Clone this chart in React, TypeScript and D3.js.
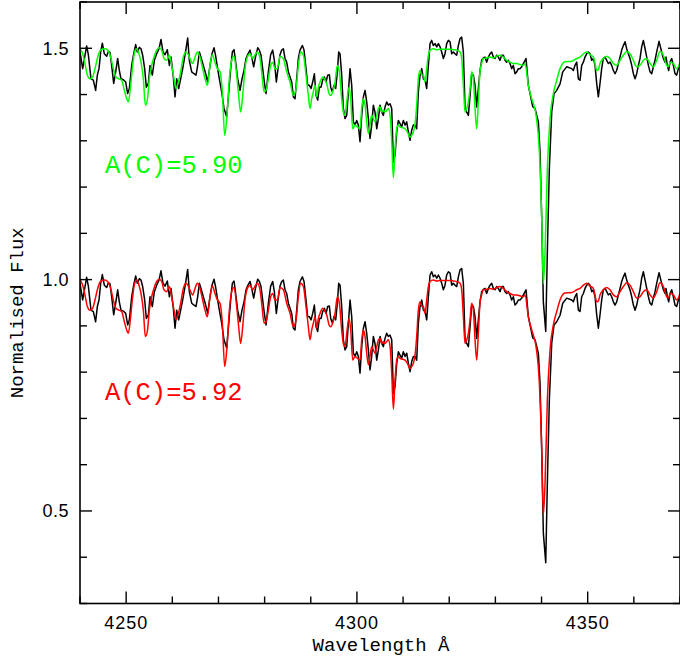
import { useEffect, useRef } from "react";
import * as d3 from "d3";

// Observed spectrum (wavelength in Å, normalised flux), lower copy
const observed: [number, number][] = [
  [4240.0, 0.992], [4240.58, 0.956], [4241.44, 1.005], [4241.81, 0.986], [4242.38, 0.934], [4242.89, 0.931],
  [4243.39, 0.909], [4243.76, 0.942], [4244.12, 0.956], [4244.48, 0.992], [4244.84, 1.011], [4245.27, 0.988],
  [4245.78, 0.983], [4246.14, 0.993], [4246.5, 0.991], [4246.86, 0.963], [4247.3, 0.924], [4247.73, 0.949],
  [4248.16, 0.978], [4248.52, 0.952], [4248.88, 0.934], [4249.39, 0.932], [4249.9, 0.927], [4250.33, 0.902],
  [4250.69, 0.913], [4251.2, 0.963], [4251.63, 0.988], [4252.06, 1.008], [4252.42, 0.992], [4252.86, 1.002],
  [4253.22, 0.999], [4253.58, 0.985], [4254.01, 0.956], [4254.37, 0.916], [4254.81, 0.924], [4255.17, 0.963],
  [4255.67, 0.942], [4256.11, 0.974], [4256.61, 0.988], [4257.12, 0.999], [4257.55, 1.019], [4257.98, 0.992],
  [4258.42, 0.986], [4258.92, 0.997], [4259.36, 0.963], [4259.72, 0.981], [4260.22, 0.938], [4260.59, 0.895],
  [4260.95, 0.934], [4261.38, 0.913], [4261.81, 0.934], [4262.25, 0.956], [4262.75, 0.985], [4263.33, 1.022],
  [4263.69, 0.974], [4264.2, 0.949], [4264.7, 0.945], [4265.14, 0.942], [4265.5, 0.963], [4265.86, 0.992],
  [4266.29, 0.978], [4266.72, 0.963], [4267.23, 0.945], [4267.66, 0.927], [4268.17, 0.963], [4268.6, 0.988],
  [4269.04, 1.001], [4269.4, 0.983], [4269.76, 0.96], [4270.19, 0.934], [4270.7, 0.906], [4271.2, 0.87],
  [4271.78, 0.852], [4272.29, 0.913], [4272.65, 0.956], [4273.01, 0.992], [4273.37, 0.997], [4273.73, 0.97],
  [4274.16, 0.934], [4274.67, 0.909], [4275.1, 0.934], [4275.54, 0.952], [4275.97, 0.978], [4276.4, 0.988],
  [4276.84, 0.996], [4277.27, 0.978], [4277.63, 0.96], [4278.06, 0.983], [4278.5, 1.001], [4278.86, 0.996],
  [4279.22, 0.985], [4279.58, 0.956], [4279.94, 0.927], [4280.3, 0.902], [4280.81, 0.949], [4281.31, 0.986],
  [4281.75, 0.996], [4282.11, 0.974], [4282.54, 0.927], [4282.9, 0.956], [4283.34, 0.986], [4283.7, 0.996],
  [4284.06, 0.999], [4284.42, 0.978], [4284.78, 0.97], [4285.15, 0.949], [4285.51, 0.938], [4285.87, 0.927],
  [4286.23, 0.895], [4286.59, 0.891], [4286.95, 0.934], [4287.31, 0.978], [4287.67, 0.996], [4288.18, 1.006],
  [4288.54, 0.996], [4288.97, 0.956], [4289.33, 0.92], [4289.7, 0.92], [4290.06, 0.913], [4290.42, 0.927],
  [4290.78, 0.945], [4291.14, 0.898], [4291.5, 0.888], [4291.86, 0.916], [4292.22, 0.916], [4292.58, 0.931],
  [4292.95, 0.938], [4293.31, 0.927], [4293.67, 0.942], [4294.03, 0.943], [4294.32, 0.916], [4294.68, 0.906],
  [4295.04, 0.92], [4295.4, 0.913], [4295.76, 0.949], [4296.05, 0.992], [4296.34, 0.988], [4296.7, 0.942],
  [4297.06, 0.87], [4297.42, 0.848], [4297.79, 0.855], [4298.15, 0.906], [4298.51, 0.956], [4298.87, 0.92],
  [4299.23, 0.841], [4299.59, 0.834], [4299.95, 0.844], [4300.31, 0.834], [4300.67, 0.798], [4301.04, 0.855],
  [4301.4, 0.895], [4301.76, 0.909], [4302.12, 0.884], [4302.48, 0.848], [4302.84, 0.805], [4303.2, 0.834],
  [4303.56, 0.877], [4303.92, 0.862], [4304.29, 0.826], [4304.65, 0.848], [4305.01, 0.877], [4305.37, 0.862],
  [4305.73, 0.855], [4306.09, 0.873], [4306.45, 0.884], [4306.81, 0.877], [4307.18, 0.88], [4307.54, 0.87],
  [4307.9, 0.754], [4308.26, 0.769], [4308.62, 0.819], [4308.98, 0.844], [4309.34, 0.837], [4309.7, 0.83],
  [4310.06, 0.844], [4310.43, 0.834], [4310.79, 0.841], [4311.15, 0.819], [4311.51, 0.801], [4311.87, 0.823],
  [4312.23, 0.834], [4312.59, 0.834], [4312.95, 0.826], [4313.31, 0.906], [4313.68, 0.942], [4314.04, 0.956],
  [4314.4, 0.934], [4314.76, 0.931], [4315.12, 0.913], [4315.48, 0.963], [4315.84, 1.01], [4316.2, 1.017],
  [4316.56, 1.006], [4316.93, 1.01], [4317.29, 1.003], [4317.65, 1.01], [4318.01, 1.003], [4318.37, 0.992],
  [4318.73, 0.978], [4319.09, 0.988], [4319.45, 1.01], [4319.81, 1.017], [4320.18, 1.014], [4320.54, 0.988],
  [4320.9, 0.992], [4321.26, 0.988], [4321.62, 0.985], [4321.98, 1.006], [4322.34, 1.021], [4322.7, 1.024],
  [4323.06, 0.992], [4323.43, 0.87], [4323.79, 0.862], [4324.15, 0.855], [4324.51, 0.898], [4324.87, 0.945],
  [4325.23, 0.942], [4325.59, 0.92], [4325.95, 0.873], [4326.31, 0.913], [4326.67, 0.952], [4327.03, 0.974],
  [4327.39, 0.979], [4327.75, 0.981], [4328.11, 0.97], [4328.48, 0.981], [4328.84, 0.988], [4329.2, 0.992],
  [4329.56, 0.981], [4329.92, 0.978], [4330.28, 0.985], [4330.64, 0.981], [4331.0, 0.974], [4331.36, 0.985],
  [4331.73, 0.985], [4332.09, 0.974], [4332.45, 0.97], [4332.81, 0.974], [4333.17, 0.967], [4333.53, 0.956],
  [4333.89, 0.963], [4334.25, 0.945], [4334.62, 0.949], [4334.98, 0.956], [4335.34, 0.956], [4335.7, 0.96],
  [4336.06, 0.967], [4336.64, 0.978], [4337.14, 0.92], [4338.09, 0.874], [4338.59, 0.87], [4339.31, 0.841],
  [4339.67, 0.777], [4340.04, 0.632], [4340.39, 0.452], [4340.91, 0.388], [4341.26, 0.561], [4341.69, 0.74],
  [4342.21, 0.863], [4342.71, 0.902], [4343.29, 0.909], [4344.01, 0.923], [4344.59, 0.949], [4345.46, 0.96],
  [4346.54, 0.956], [4346.89, 0.952], [4347.25, 0.963], [4347.62, 0.97], [4347.98, 0.934], [4348.34, 0.931],
  [4348.7, 0.963], [4349.06, 0.97], [4349.42, 0.981], [4349.78, 0.988], [4350.14, 0.992], [4350.5, 0.988],
  [4350.87, 0.974], [4351.23, 0.978], [4351.59, 0.963], [4351.95, 0.924], [4352.31, 0.895], [4352.67, 0.924],
  [4353.03, 0.956], [4353.39, 0.978], [4353.76, 0.981], [4354.12, 0.974], [4354.48, 0.967], [4354.84, 0.97],
  [4355.2, 0.963], [4355.56, 0.952], [4355.92, 0.945], [4356.28, 0.952], [4356.65, 0.967], [4357.01, 0.981],
  [4357.37, 0.996], [4357.73, 1.006], [4358.09, 1.014], [4358.45, 0.999], [4358.81, 0.988], [4359.17, 0.978],
  [4359.54, 0.963], [4359.9, 0.945], [4360.26, 0.934], [4360.62, 0.945], [4360.98, 0.963], [4361.34, 0.978],
  [4361.7, 1.003], [4362.06, 1.017], [4362.43, 0.999], [4362.79, 0.981], [4363.15, 0.963], [4363.51, 0.949],
  [4363.87, 0.945], [4364.23, 0.96], [4364.59, 0.974], [4364.95, 0.992], [4365.46, 1.015], [4366.03, 0.992],
  [4366.4, 0.978], [4366.76, 0.97], [4366.97, 0.981], [4367.26, 0.963], [4367.55, 0.952], [4367.84, 0.97],
  [4368.2, 0.978], [4368.56, 0.963], [4368.92, 0.945], [4369.28, 0.942], [4369.65, 0.956], [4370.01, 0.963],
];

// Synthetic spectrum (the A(C)=5.90 and 5.92 syntheses coincide at this scale)
const model: [number, number][] = [
  [4240.0, 0.999], [4240.58, 0.988], [4241.08, 0.967], [4241.59, 0.942], [4242.17, 0.934], [4242.74, 0.938],
  [4243.25, 0.956], [4243.76, 0.978], [4244.19, 0.992], [4244.77, 0.998], [4245.42, 0.999], [4245.99, 0.996],
  [4246.65, 0.981], [4247.22, 0.956], [4247.8, 0.938], [4248.45, 0.934], [4249.03, 0.931], [4249.61, 0.909],
  [4250.11, 0.891], [4250.47, 0.884], [4250.98, 0.92], [4251.41, 0.963], [4251.85, 0.992], [4252.28, 0.999],
  [4252.78, 0.988], [4253.22, 0.97], [4253.72, 0.934], [4254.16, 0.877], [4254.59, 0.888], [4255.02, 0.934],
  [4255.53, 0.963], [4256.03, 0.981], [4256.61, 0.996], [4257.19, 1.001], [4257.7, 0.996], [4258.2, 0.978],
  [4258.78, 0.974], [4259.36, 0.985], [4259.86, 0.963], [4260.37, 0.934], [4260.8, 0.913], [4261.31, 0.927],
  [4261.81, 0.949], [4262.39, 0.981], [4262.97, 0.992], [4263.47, 0.986], [4263.98, 0.974], [4264.41, 0.967],
  [4264.92, 0.981], [4265.42, 0.992], [4266.0, 0.981], [4266.58, 0.956], [4267.09, 0.934], [4267.59, 0.92],
  [4268.17, 0.963], [4268.67, 0.986], [4269.25, 0.97], [4269.76, 0.956], [4270.34, 0.949], [4270.84, 0.906],
  [4271.35, 0.812], [4271.85, 0.855], [4272.36, 0.934], [4272.86, 0.974], [4273.37, 0.983], [4273.95, 0.942],
  [4274.38, 0.898], [4274.81, 0.862], [4275.25, 0.898], [4275.75, 0.956], [4276.26, 0.981], [4276.84, 0.988],
  [4277.41, 0.978], [4277.92, 0.986], [4278.43, 0.992], [4279.0, 0.978], [4279.44, 0.942], [4279.87, 0.906],
  [4280.3, 0.909], [4280.81, 0.934], [4281.31, 0.963], [4281.75, 0.97], [4282.25, 0.956], [4282.76, 0.956],
  [4283.34, 0.983], [4284.06, 0.978], [4284.78, 0.949], [4285.51, 0.927], [4286.23, 0.898], [4286.81, 0.913],
  [4287.31, 0.963], [4287.82, 0.992], [4288.4, 0.985], [4288.97, 0.942], [4289.48, 0.898], [4289.84, 0.87],
  [4290.2, 0.891], [4290.56, 0.906], [4290.92, 0.92], [4291.28, 0.895], [4291.65, 0.916], [4292.01, 0.927],
  [4292.58, 0.938], [4293.09, 0.931], [4293.45, 0.924], [4293.96, 0.902], [4294.32, 0.898], [4294.75, 0.906],
  [4295.26, 0.927], [4295.76, 0.963], [4296.2, 0.949], [4296.7, 0.891], [4297.06, 0.862], [4297.42, 0.855],
  [4297.79, 0.884], [4298.29, 0.916], [4298.65, 0.891], [4299.09, 0.826], [4299.59, 0.834], [4300.1, 0.83],
  [4300.67, 0.826], [4301.04, 0.87], [4301.4, 0.891], [4301.76, 0.877], [4302.12, 0.841], [4302.48, 0.816],
  [4302.84, 0.834], [4303.2, 0.855], [4303.56, 0.848], [4303.92, 0.841], [4304.29, 0.855], [4304.65, 0.87],
  [4305.01, 0.873], [4305.37, 0.862], [4305.73, 0.866], [4306.09, 0.862], [4306.45, 0.866], [4306.81, 0.87],
  [4307.18, 0.855], [4307.54, 0.798], [4307.9, 0.72], [4308.26, 0.783], [4308.62, 0.826], [4308.98, 0.834],
  [4309.34, 0.83], [4309.92, 0.828], [4310.43, 0.826], [4310.93, 0.819], [4311.51, 0.808], [4311.87, 0.812],
  [4312.23, 0.819], [4312.59, 0.837], [4312.95, 0.877], [4313.31, 0.934], [4313.68, 0.952], [4314.04, 0.942],
  [4314.4, 0.942], [4314.76, 0.927], [4315.12, 0.956], [4315.48, 0.985], [4315.84, 0.996], [4316.56, 0.999],
  [4317.29, 0.997], [4318.01, 0.998], [4318.73, 0.998], [4319.45, 0.998], [4320.18, 0.998], [4320.9, 0.997],
  [4321.62, 0.996], [4322.34, 0.992], [4322.7, 0.978], [4323.06, 0.92], [4323.43, 0.862], [4323.79, 0.87],
  [4324.15, 0.884], [4324.51, 0.913], [4324.87, 0.949], [4325.23, 0.934], [4325.59, 0.87], [4325.95, 0.826],
  [4326.31, 0.884], [4326.67, 0.95], [4327.03, 0.967], [4327.39, 0.978], [4328.11, 0.979], [4328.84, 0.981],
  [4329.56, 0.979], [4330.28, 0.983], [4331.0, 0.985], [4331.73, 0.981], [4332.45, 0.974], [4333.17, 0.97],
  [4333.89, 0.967], [4334.62, 0.967], [4335.34, 0.965], [4336.06, 0.963], [4336.42, 0.967], [4337.14, 0.92],
  [4337.88, 0.891], [4338.81, 0.855], [4339.52, 0.777], [4340.04, 0.632], [4340.39, 0.491], [4340.76, 0.56],
  [4341.26, 0.74], [4341.84, 0.848], [4342.56, 0.902], [4343.29, 0.931], [4344.01, 0.956], [4345.09, 0.971],
  [4346.54, 0.972], [4347.62, 0.978], [4348.34, 0.981], [4349.06, 0.988], [4349.78, 0.992], [4350.5, 0.986],
  [4351.23, 0.981], [4351.59, 0.967], [4351.95, 0.952], [4352.31, 0.954], [4352.67, 0.967], [4353.39, 0.978],
  [4354.12, 0.983], [4354.84, 0.978], [4355.56, 0.967], [4356.28, 0.963], [4357.01, 0.974], [4357.73, 0.985],
  [4358.45, 0.993], [4359.17, 0.988], [4359.9, 0.974], [4360.62, 0.96], [4361.34, 0.963], [4362.06, 0.974],
  [4362.79, 0.978], [4363.51, 0.967], [4364.23, 0.96], [4364.95, 0.974], [4365.67, 0.993], [4366.4, 0.985],
  [4367.12, 0.963], [4367.48, 0.96], [4367.84, 0.97], [4368.56, 0.967], [4369.28, 0.956], [4370.01, 0.97],
];

// upper copy of the spectra is shifted up by this much
const upperOffset = 0.5;

const xDomain = [4240, 4370];
const yDomain = [0.3, 1.6];
const xMajorTicks = [4250, 4300, 4350];
const yMajorTicks = [0.5, 1.0, 1.5];
const yTickLabels = ["0.5", "1.0", "1.5"];

const labels = [
  { text: "A(C)=5.90", color: "#00ff00", wave: 4245.4, flux: 1.23 },
  { text: "A(C)=5.92", color: "#ff0000", wave: 4245.4, flux: 0.74 },
];

const WIDTH = 680;
const HEIGHT = 662;
const margin = { top: 2, right: 0, bottom: 58.5, left: 80 };

export default function App() {
  const svgRef = useRef<SVGSVGElement>(null);

  useEffect(() => {
    const svg = d3.select(svgRef.current);
    svg.selectAll("*").remove();

    const x = d3.scaleLinear().domain(xDomain).range([margin.left, WIDTH - margin.right]);
    const y = d3.scaleLinear().domain(yDomain).range([HEIGHT - margin.bottom, margin.top]);

    const [x0, x1] = x.range();
    const [y0, y1] = y.range(); // y0 bottom, y1 top

    svg.append("rect").attr("width", WIDTH).attr("height", HEIGHT).attr("fill", "white");

    svg.append("clipPath").attr("id", "plot-clip")
      .append("rect")
      .attr("x", x0).attr("y", y1)
      .attr("width", x1 - x0).attr("height", y0 - y1);

    const plot = svg.append("g").attr("clip-path", "url(#plot-clip)");

    const obsLine = (offset: number) =>
      d3.line<[number, number]>()
        .x((d) => x(d[0]))
        .y((d) => y(d[1] + offset));

    const modelLine = (offset: number) =>
      d3.line<[number, number]>()
        .x((d) => x(d[0]))
        .y((d) => y(d[1] + offset))
        .curve(d3.curveMonotoneX);

    // upper pair: observed + A(C)=5.90
    plot.append("path").datum(observed)
      .attr("d", obsLine(upperOffset))
      .attr("fill", "none").attr("stroke", "#000").attr("stroke-width", 1.5)
      .attr("stroke-linejoin", "round");
    plot.append("path").datum(model)
      .attr("d", modelLine(upperOffset))
      .attr("fill", "none").attr("stroke", labels[0].color).attr("stroke-width", 1.5);

    // lower pair: observed + A(C)=5.92
    plot.append("path").datum(observed)
      .attr("d", obsLine(0))
      .attr("fill", "none").attr("stroke", "#000").attr("stroke-width", 1.5)
      .attr("stroke-linejoin", "round");
    plot.append("path").datum(model)
      .attr("d", modelLine(0))
      .attr("fill", "none").attr("stroke", labels[1].color).attr("stroke-width", 1.5);

    // frame
    svg.append("rect")
      .attr("x", x0).attr("y", y1)
      .attr("width", x1 - x0).attr("height", y0 - y1)
      .attr("fill", "none").attr("stroke", "#000").attr("stroke-width", 1.6);

    // ticks
    const ticks = svg.append("g").attr("stroke", "#000").attr("stroke-width", 1.4);
    const xMinor = d3.range(xDomain[0], xDomain[1] + 0.01, 10);
    const yMinor = d3.range(0.3, 1.601, 0.1);

    xMinor.forEach((v) => {
      const len = xMajorTicks.includes(Math.round(v)) ? 12 : 7;
      ticks.append("line").attr("x1", x(v)).attr("x2", x(v)).attr("y1", y0).attr("y2", y0 - len);
      ticks.append("line").attr("x1", x(v)).attr("x2", x(v)).attr("y1", y1).attr("y2", y1 + len);
    });
    yMinor.forEach((v) => {
      const major = yMajorTicks.some((m) => Math.abs(m - v) < 1e-6);
      const len = major ? 12 : 7;
      ticks.append("line").attr("x1", x0).attr("x2", x0 + len).attr("y1", y(v)).attr("y2", y(v));
      ticks.append("line").attr("x1", x1).attr("x2", x1 - len).attr("y1", y(v)).attr("y2", y(v));
    });

    // tick labels
    svg.append("g").selectAll("text")
      .data(xMajorTicks)
      .join("text")
      .attr("x", (d) => x(d))
      .attr("y", y0 + 25)
      .attr("text-anchor", "middle")
      .attr("font-family", "Liberation Sans, sans-serif")
      .attr("font-size", 18)
      .attr("letter-spacing", 1)
      .text((d) => d);

    svg.append("g").selectAll("text")
      .data(yMajorTicks)
      .join("text")
      .attr("x", x0 - 11)
      .attr("y", (d) => y(d) + 6.5)
      .attr("text-anchor", "end")
      .attr("font-family", "Liberation Sans, sans-serif")
      .attr("font-size", 18)
      .attr("letter-spacing", 0.5)
      .text((d, i) => yTickLabels[i]);

    // axis titles
    svg.append("text")
      .attr("x", (x0 + x1) / 2 + 1)
      .attr("y", 651)
      .attr("text-anchor", "middle")
      .attr("font-family", "Liberation Mono, monospace")
      .attr("font-size", 19)
      .text("Wavelength Å");

    svg.append("text")
      .attr("transform", `translate(23,${(y0 + y1) / 2 + 10}) rotate(-90)`)
      .attr("text-anchor", "middle")
      .attr("font-family", "Liberation Mono, monospace")
      .attr("font-size", 19)
      .text("Normalised Flux");

    // abundance labels
    svg.append("g").selectAll("text")
      .data(labels)
      .join("text")
      .attr("x", (d) => x(d.wave))
      .attr("y", (d) => y(d.flux))
      .attr("fill", (d) => d.color)
      .attr("font-family", "Liberation Mono, monospace")
      .attr("font-size", 25.5)
      .text((d) => d.text);
  }, []);

  return (
    <svg
      ref={svgRef}
      width={WIDTH}
      height={HEIGHT}
      style={{ position: "absolute", left: 0, top: 0 }}
    ></svg>
  );
}
